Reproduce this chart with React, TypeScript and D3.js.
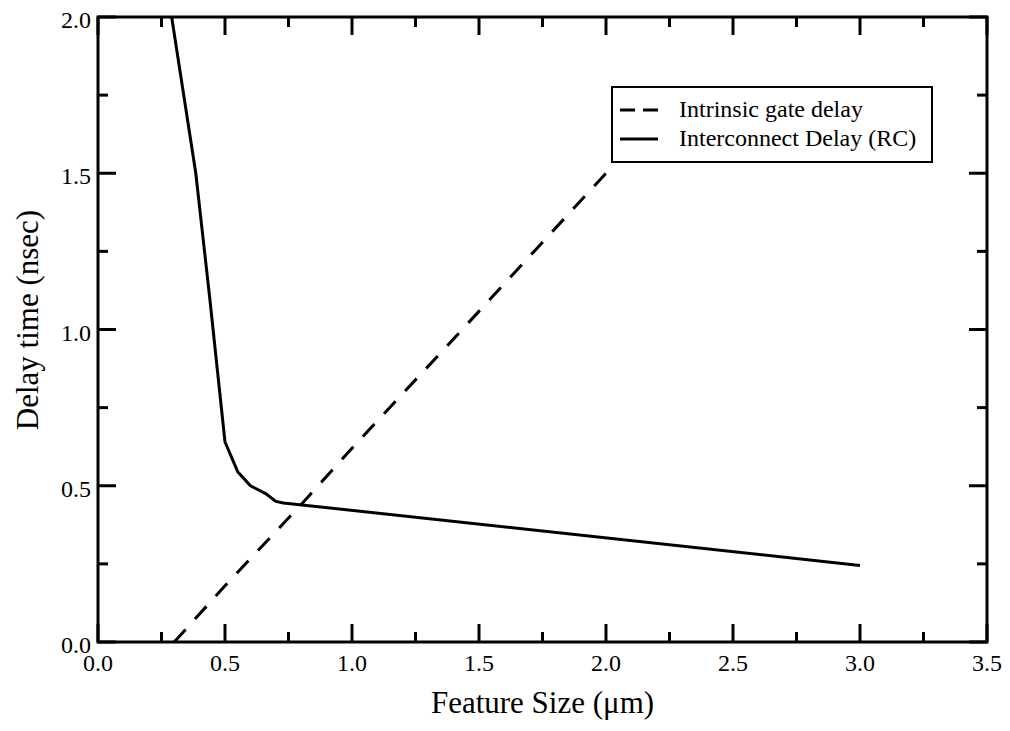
import React from "react";
import * as d3 from "d3";

// Intrinsic gate delay vs. feature size (dashed)
const gateSize = [0.3, 0.5, 0.8, 1.0, 1.4, 2.0];
const gateDelay = [0.0, 0.18, 0.44, 0.62, 0.97, 1.5];

// Interconnect RC delay vs. feature size (solid)
const rcSize = [0.29, 0.385, 0.44, 0.5, 0.55, 0.6, 0.66, 0.7, 0.73, 3.0];
const rcDelay = [2.0, 1.5, 1.1, 0.64, 0.545, 0.5, 0.475, 0.45, 0.445, 0.245];

const xMajor = [0, 0.5, 1.0, 1.5, 2.0, 2.5, 3.0, 3.5];
const xMinor = [0.25, 0.75, 1.25, 1.75, 2.25, 2.75, 3.25];
const yMajor = [0, 0.5, 1.0, 1.5, 2.0];
const yMinor = [0.25, 0.75, 1.25, 1.75];

const legendLabels = ["Intrinsic gate delay", "Interconnect Delay (RC)"];

const W = 1010;
const H = 731;
const left = 98;
const right = 987;
const top = 17;
const bottom = 642;
const FONT = "'Liberation Serif', 'Times New Roman', serif";

export default function App() {
  const x = d3.scaleLinear().domain([0, 3.5]).range([left, right]);
  const y = d3.scaleLinear().domain([0, 2.0]).range([bottom, top]);

  const line = d3
    .line<[number, number]>()
    .x((d) => x(d[0]))
    .y((d) => y(d[1]));

  const gatePts = gateSize.map((s, i) => [s, gateDelay[i]] as [number, number]);
  const rcPts = rcSize.map((s, i) => [s, rcDelay[i]] as [number, number]);

  const majorLen = 18;
  const minorLen = 10;
  const fmt = d3.format(".1f");

  return (
    <svg
      width={W}
      height={H}
      style={{ position: "absolute", left: 0, top: 0, background: "#fff" }}
      fontFamily={FONT}
    >
      <rect x={0} y={0} width={W} height={H} fill="#fff" />
      <defs>
        <clipPath id="plotArea">
          <rect x={left} y={top} width={right - left} height={bottom - top} />
        </clipPath>
      </defs>

      {/* data lines */}
      <g clipPath="url(#plotArea)" fill="none" stroke="#000" strokeWidth={3}>
        <path d={line(gatePts) || ""} strokeDasharray="17 14" />
        <path d={line(rcPts) || ""} strokeLinejoin="round" />
      </g>

      {/* ticks on all four sides, pointing inward */}
      <g stroke="#000" strokeWidth={3}>
        {xMajor.map((v) => (
          <g key={"xM" + v}>
            <line x1={x(v)} x2={x(v)} y1={bottom} y2={bottom - majorLen} />
            <line x1={x(v)} x2={x(v)} y1={top} y2={top + majorLen} />
          </g>
        ))}
        {xMinor.map((v) => (
          <g key={"xm" + v}>
            <line x1={x(v)} x2={x(v)} y1={bottom} y2={bottom - minorLen} />
            <line x1={x(v)} x2={x(v)} y1={top} y2={top + minorLen} />
          </g>
        ))}
        {yMajor.map((v) => (
          <g key={"yM" + v}>
            <line x1={left} x2={left + majorLen} y1={y(v)} y2={y(v)} />
            <line x1={right} x2={right - majorLen} y1={y(v)} y2={y(v)} />
          </g>
        ))}
        {yMinor.map((v) => (
          <g key={"ym" + v}>
            <line x1={left} x2={left + minorLen} y1={y(v)} y2={y(v)} />
            <line x1={right} x2={right - minorLen} y1={y(v)} y2={y(v)} />
          </g>
        ))}
      </g>

      {/* frame */}
      <rect
        x={left}
        y={top}
        width={right - left}
        height={bottom - top}
        fill="none"
        stroke="#000"
        strokeWidth={3}
      />

      {/* tick labels */}
      <g fontSize={24} fill="#000">
        {xMajor.map((v) => (
          <text key={"xl" + v} x={x(v)} y={671} textAnchor="middle">
            {fmt(v)}
          </text>
        ))}
        {yMajor.map((v) => (
          <text key={"yl" + v} x={91} y={y(v) + 11} textAnchor="end">
            {fmt(v)}
          </text>
        ))}
      </g>

      {/* axis titles */}
      <text x={(left + right) / 2} y={713} textAnchor="middle" fontSize={31} fill="#000">
        Feature Size (μm)
      </text>
      <text
        transform={`translate(38, 320) rotate(-90)`}
        textAnchor="middle"
        fontSize={31}
        fill="#000"
      >
        Delay time (nsec)
      </text>

      {/* legend */}
      <g>
        <rect x={612} y={87} width={320} height={75} fill="#fff" stroke="#000" strokeWidth={2} />
        <line x1={620} x2={658} y1={110} y2={110} stroke="#000" strokeWidth={3} strokeDasharray="15 8" />
        <line x1={620} x2={658} y1={139} y2={139} stroke="#000" strokeWidth={3} />
        <text x={679} y={117} fontSize={24} fill="#000">
          {legendLabels[0]}
        </text>
        <text x={679} y={146} fontSize={24} fill="#000">
          {legendLabels[1]}
        </text>
      </g>
    </svg>
  );
}
